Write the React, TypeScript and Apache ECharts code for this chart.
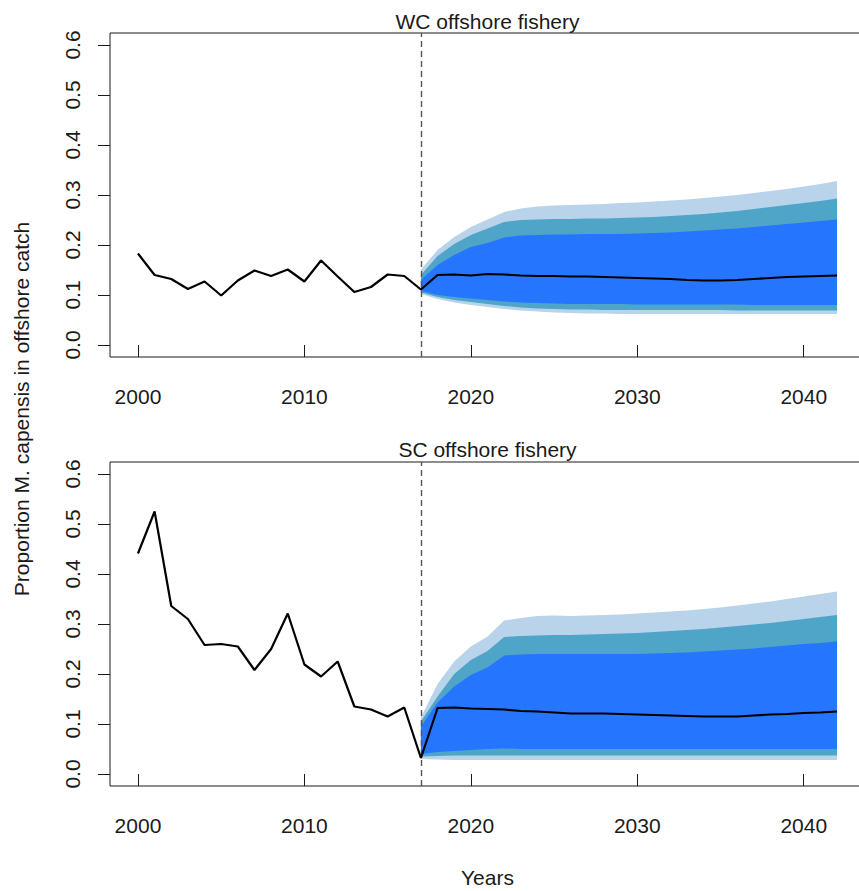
import React, { useEffect, useRef } from "react";
import * as echarts from "echarts";

const histYears = [2000, 2001, 2002, 2003, 2004, 2005, 2006, 2007, 2008, 2009, 2010, 2011, 2012, 2013, 2014, 2015, 2016, 2017];
const projYears = [2017, 2018, 2019, 2020, 2021, 2022, 2023, 2024, 2025, 2026, 2027, 2028, 2029, 2030, 2031, 2032, 2033, 2034, 2035, 2036, 2037, 2038, 2039, 2040, 2041, 2042];
const xTicks = [2000, 2010, 2020, 2030, 2040];
const yTicks = [0, 0.1, 0.2, 0.3, 0.4, 0.5, 0.6];
const panelTitles = ["WC offshore fishery", "SC offshore fishery"];
const yTitle = "Proportion M. capensis in offshore catch";
const xTitle = "Years";
const changeYear = 2017;

// WC offshore fishery
const wcHist = [0.183, 0.140, 0.132, 0.112, 0.127, 0.099, 0.129, 0.149, 0.138, 0.151, 0.127, 0.169, 0.137, 0.106, 0.116, 0.141, 0.138, 0.111];
const wcMedian = [0.111, 0.140, 0.141, 0.139, 0.142, 0.141, 0.139, 0.138, 0.138, 0.137, 0.137, 0.136, 0.135, 0.134, 0.133, 0.132, 0.130, 0.129, 0.129, 0.130, 0.132, 0.134, 0.136, 0.137, 0.138, 0.139];
const wcOuterHigh = [0.151, 0.190, 0.216, 0.236, 0.251, 0.266, 0.273, 0.277, 0.279, 0.280, 0.281, 0.282, 0.284, 0.285, 0.287, 0.289, 0.291, 0.294, 0.297, 0.300, 0.304, 0.308, 0.312, 0.317, 0.322, 0.328];
const wcMidHigh = [0.140, 0.178, 0.202, 0.220, 0.233, 0.246, 0.250, 0.251, 0.252, 0.252, 0.253, 0.253, 0.254, 0.255, 0.256, 0.258, 0.260, 0.262, 0.265, 0.268, 0.272, 0.276, 0.280, 0.284, 0.288, 0.293];
const wcInnerHigh = [0.130, 0.160, 0.180, 0.196, 0.204, 0.215, 0.219, 0.220, 0.221, 0.221, 0.222, 0.222, 0.222, 0.223, 0.224, 0.225, 0.227, 0.229, 0.231, 0.233, 0.236, 0.239, 0.242, 0.245, 0.248, 0.251];
const wcInnerLow = [0.108, 0.100, 0.096, 0.093, 0.090, 0.087, 0.085, 0.084, 0.083, 0.082, 0.082, 0.082, 0.082, 0.081, 0.081, 0.081, 0.081, 0.081, 0.081, 0.081, 0.080, 0.080, 0.080, 0.080, 0.080, 0.080];
const wcMidLow = [0.105, 0.096, 0.090, 0.086, 0.082, 0.078, 0.075, 0.073, 0.072, 0.071, 0.071, 0.070, 0.070, 0.070, 0.070, 0.070, 0.070, 0.070, 0.070, 0.069, 0.069, 0.069, 0.069, 0.069, 0.069, 0.069];
const wcOuterLow = [0.102, 0.092, 0.085, 0.080, 0.076, 0.072, 0.069, 0.067, 0.065, 0.064, 0.063, 0.063, 0.062, 0.062, 0.062, 0.062, 0.062, 0.062, 0.062, 0.062, 0.062, 0.062, 0.062, 0.062, 0.062, 0.062];

// SC offshore fishery
const scHist = [0.441, 0.525, 0.336, 0.310, 0.258, 0.260, 0.255, 0.208, 0.250, 0.321, 0.219, 0.195, 0.225, 0.135, 0.129, 0.115, 0.133, 0.032];
const scMedian = [0.032, 0.132, 0.133, 0.131, 0.130, 0.129, 0.126, 0.125, 0.123, 0.121, 0.121, 0.121, 0.120, 0.119, 0.118, 0.117, 0.116, 0.115, 0.115, 0.115, 0.117, 0.119, 0.120, 0.122, 0.123, 0.125];
const scOuterHigh = [0.113, 0.180, 0.225, 0.255, 0.275, 0.307, 0.312, 0.316, 0.317, 0.316, 0.317, 0.318, 0.319, 0.321, 0.323, 0.325, 0.327, 0.330, 0.333, 0.337, 0.341, 0.345, 0.350, 0.355, 0.360, 0.365];
const scMidHigh = [0.105, 0.155, 0.200, 0.228, 0.246, 0.274, 0.276, 0.277, 0.278, 0.278, 0.279, 0.280, 0.281, 0.282, 0.284, 0.286, 0.288, 0.290, 0.293, 0.296, 0.299, 0.302, 0.306, 0.310, 0.314, 0.318];
const scInnerHigh = [0.095, 0.143, 0.175, 0.198, 0.213, 0.237, 0.239, 0.240, 0.240, 0.240, 0.240, 0.240, 0.240, 0.240, 0.241, 0.242, 0.243, 0.245, 0.247, 0.249, 0.251, 0.254, 0.257, 0.260, 0.262, 0.265];
const scInnerLow = [0.040, 0.044, 0.046, 0.048, 0.050, 0.051, 0.050, 0.050, 0.050, 0.050, 0.050, 0.050, 0.050, 0.050, 0.050, 0.050, 0.050, 0.050, 0.050, 0.050, 0.050, 0.050, 0.050, 0.050, 0.050, 0.050];
const scMidLow = [0.035, 0.036, 0.037, 0.037, 0.037, 0.037, 0.037, 0.037, 0.037, 0.037, 0.037, 0.037, 0.037, 0.037, 0.037, 0.037, 0.037, 0.037, 0.037, 0.037, 0.037, 0.037, 0.037, 0.037, 0.037, 0.037];
const scOuterLow = [0.030, 0.029, 0.028, 0.028, 0.028, 0.028, 0.028, 0.028, 0.028, 0.028, 0.028, 0.028, 0.028, 0.028, 0.028, 0.028, 0.028, 0.028, 0.028, 0.028, 0.028, 0.028, 0.028, 0.028, 0.028, 0.028];

const bandColors = ["#B8D3EA", "#4FA5C8", "#2575FF"];

const FONT = "'Liberation Sans', Arial, Helvetica, sans-serif";
const INK = "#1a1a1a";

const X_MIN = 1998.32;
const X_MAX = 2043.68;
const Y_MIN = -0.024;
const Y_MAX = 0.624;

type Band = { low: number[]; high: number[]; color: string };

function bandSeries(gi: number, bands: Band[]) {
  return {
    type: "custom",
    coordinateSystem: "cartesian2d",
    xAxisIndex: gi,
    yAxisIndex: gi,
    silent: true,
    z: 1,
    data: bands.map((b, i) => [projYears[0], b.low[0], i]),
    encode: { x: 0, y: 1 },
    renderItem: (params: any, api: any) => {
      const b = bands[params.dataIndex];
      const pts: number[][] = [];
      projYears.forEach((yr, i) => pts.push(api.coord([yr, b.high[i]])));
      for (let i = projYears.length - 1; i >= 0; i--) pts.push(api.coord([projYears[i], b.low[i]]));
      return { type: "polygon", shape: { points: pts }, style: { fill: b.color, stroke: null } };
    },
  };
}

function lineSeries(gi: number, hist: number[], median: number[]) {
  const data: number[][] = [];
  histYears.forEach((yr, i) => data.push([yr, hist[i]]));
  projYears.forEach((yr, i) => {
    if (yr > histYears[histYears.length - 1]) data.push([yr, median[i]]);
  });
  return {
    type: "line",
    xAxisIndex: gi,
    yAxisIndex: gi,
    data,
    showSymbol: false,
    symbol: "none",
    silent: true,
    z: 5,
    lineStyle: { color: "#000", width: 2.2 },
    markLine: {
      silent: true,
      symbol: ["none", "none"],
      label: { show: false },
      lineStyle: { color: "#555", type: [6, 4], width: 1.4 },
      data: [{ xAxis: changeYear }],
    },
  };
}

const gridTops = [33, 462];
const GRID_H = 324;

export default function App() {
  const ref = useRef<HTMLDivElement>(null);
  useEffect(() => {
    if (!ref.current) return;
    const chart = echarts.init(ref.current, null, { renderer: "svg" });
    const grids = gridTops.map((top) => ({
      left: 110,
      top,
      width: 755,
      height: GRID_H,
      show: true,
      borderColor: INK,
      borderWidth: 1,
      backgroundColor: "transparent",
      containLabel: false,
      outerBoundsMode: "none",
    }));
    const xAxes = gridTops.map((_, gi) => ({
      type: "value",
      gridIndex: gi,
      min: X_MIN,
      max: X_MAX,
      axisLine: { show: false },
      splitLine: { show: false },
      axisTick: { show: true, length: 12, inside: false, customValues: xTicks, lineStyle: { color: INK, width: 1 } },
      axisLabel: {
        customValues: xTicks,
        fontSize: 21,
        color: INK,
        margin: 29,
        fontFamily: FONT,
        formatter: (v: number) => String(Math.round(v)),
      },
    }));
    const yAxes = gridTops.map((_, gi) => ({
      type: "value",
      gridIndex: gi,
      min: Y_MIN,
      max: Y_MAX,
      axisLine: { show: false },
      splitLine: { show: false },
      axisTick: { show: true, length: 12, inside: false, customValues: yTicks, lineStyle: { color: INK, width: 1 } },
      axisLabel: {
        customValues: yTicks,
        rotate: 90,
        fontSize: 21,
        color: INK,
        margin: 27,
        fontFamily: FONT,
        formatter: (v: number) => v.toFixed(1),
      },
    }));
    const wcBands: Band[] = [
      { low: wcOuterLow, high: wcOuterHigh, color: bandColors[0] },
      { low: wcMidLow, high: wcMidHigh, color: bandColors[1] },
      { low: wcInnerLow, high: wcInnerHigh, color: bandColors[2] },
    ];
    const scBands: Band[] = [
      { low: scOuterLow, high: scOuterHigh, color: bandColors[0] },
      { low: scMidLow, high: scMidHigh, color: bandColors[1] },
      { low: scInnerLow, high: scInnerHigh, color: bandColors[2] },
    ];
    const option: any = {
      animation: false,
      backgroundColor: "#ffffff",
      textStyle: { fontFamily: FONT },
      grid: grids,
      xAxis: xAxes,
      yAxis: yAxes,
      series: [
        bandSeries(0, wcBands),
        lineSeries(0, wcHist, wcMedian),
        bandSeries(1, scBands),
        lineSeries(1, scHist, scMedian),
      ],
      graphic: [
        {
          type: "text",
          x: 487.5,
          y: 21,
          style: { text: panelTitles[0], fontSize: 21, fontFamily: FONT, fill: INK, align: "center", verticalAlign: "middle" },
        },
        {
          type: "text",
          x: 487.5,
          y: 449,
          style: { text: panelTitles[1], fontSize: 21, fontFamily: FONT, fill: INK, align: "center", verticalAlign: "middle" },
        },
        {
          type: "text",
          x: 487.5,
          y: 877,
          style: { text: xTitle, fontSize: 21, fontFamily: FONT, fill: INK, align: "center", verticalAlign: "middle" },
        },
        {
          type: "text",
          x: 21,
          y: 409,
          rotation: Math.PI / 2,
          style: { text: yTitle, fontSize: 21, fontFamily: FONT, fill: INK, align: "center", verticalAlign: "middle" },
        },
      ],
    };
    chart.setOption(option);
    return () => chart.dispose();
  }, []);
  return <div ref={ref} style={{ position: "absolute", left: 0, top: 0, width: 859, height: 891 }} />;
}
